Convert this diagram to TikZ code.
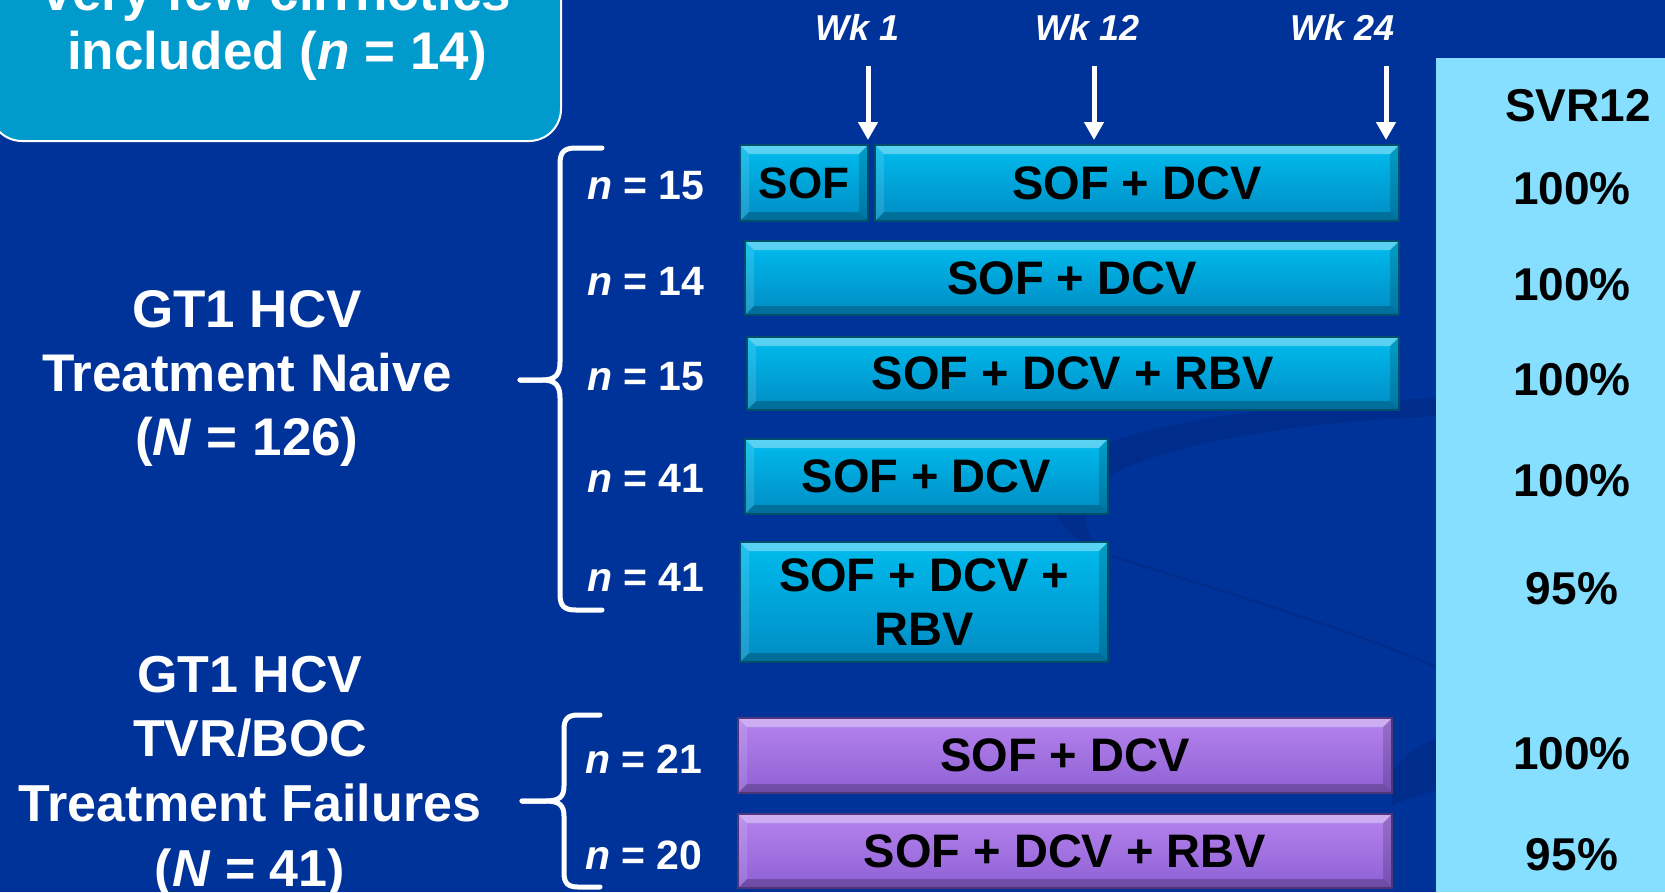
\documentclass[tikz,border=0pt]{standalone}
\usepackage{fontspec}
\setmainfont{Liberation Sans}
\usetikzlibrary{arrows.meta}
\definecolor{bg}{RGB}{0,51,153}
\definecolor{swoosh}{RGB}{0,44,140}
\definecolor{col}{RGB}{135,223,255}
\definecolor{topbox}{RGB}{0,155,204}
\definecolor{cyanT}{RGB}{0,188,238}
\definecolor{cyanB}{RGB}{0,140,196}
\definecolor{purT}{RGB}{182,132,238}
\definecolor{purB}{RGB}{142,96,212}
\newcommand\barfont{\fontsize{47}{54}\selectfont\bfseries}
\tikzset{
  every node/.style={inner sep=0pt, outer sep=0pt},
  bar/.style={rectangle, draw=#1B!55!black, line width=1.2pt, top color=#1T, bottom color=#1B,
    font=\barfont, text=black, align=center,
    path picture={
      \fill[white,opacity=.35] (path picture bounding box.north west) -- (path picture bounding box.north east)
        -- ([shift={(-9pt,-9pt)}]path picture bounding box.north east) -- ([shift={(9pt,-9pt)}]path picture bounding box.north west) -- cycle;
      \fill[white,opacity=.12] (path picture bounding box.north west) -- ([shift={(9pt,-9pt)}]path picture bounding box.north west)
        -- ([shift={(9pt,9pt)}]path picture bounding box.south west) -- (path picture bounding box.south west) -- cycle;
      \fill[black,opacity=.16] (path picture bounding box.north east) -- (path picture bounding box.south east)
        -- ([shift={(-9pt,9pt)}]path picture bounding box.south east) -- ([shift={(-9pt,-9pt)}]path picture bounding box.north east) -- cycle;
      \fill[black,opacity=.22] (path picture bounding box.south west) -- (path picture bounding box.south east)
        -- ([shift={(-9pt,9pt)}]path picture bounding box.south east) -- ([shift={(9pt,9pt)}]path picture bounding box.south west) -- cycle;
    }},
  nlab/.style={anchor=west, text=white, font=\fontsize{41}{48}\selectfont\bfseries},
  wklab/.style={text=white, font=\fontsize{36}{42}\selectfont\bfseries\itshape},
  pct/.style={text=black, font=\fontsize{46}{52}\selectfont\bfseries},
  grp/.style={anchor=base, text=white, font=\fontsize{53}{60}\selectfont\bfseries},
  wkarrow/.style={draw=white, line width=5pt, -{Triangle[width=19pt,length=18pt]}},
  brace/.style={draw=white, line width=5pt, line cap=round, line join=round},
  topboxstyle/.style={rectangle, rounded corners=32pt, fill=topbox, draw=white, line width=2pt}
}
\begin{document}
\begin{tikzpicture}[x=1pt,y=-1pt]
\useasboundingbox (0,0) rectangle (1665,892);
\fill[bg] (0,0) rectangle (1665,892);
% background swooshes
\fill[swoosh] (1436,398) .. controls (1300,405) and (1170,415) .. (1090,450)
  .. controls (1040,475) and (1035,530) .. (1112,556)
  .. controls (1075,535) and (1075,495) .. (1120,470)
  .. controls (1200,435) and (1320,422) .. (1436,416) -- cycle;
\draw[swoosh, line width=2.5pt] (1112,556) .. controls (1250,600) and (1350,630) .. (1436,667);
\fill[swoosh] (1392,770) .. controls (1405,755) and (1420,745) .. (1436,738) -- (1436,790) .. controls (1420,795) and (1405,800) .. (1392,805) -- cycle;
% SVR column
\fill[col] (1436,58) rectangle (1665,892);
% top box
\node[topboxstyle, minimum width=571pt, minimum height=201pt] (tbox) at (275.5,40.5) {};
\node[grp] (tb1) at (277,10) {very few cirrhotics};
\node[grp] (tb2) at (277,69) {included (\textit{n} = 14)};
% week labels and arrows
\node[wklab] (wk1) at (858,27) {Wk 1};
\node[wklab] (wk12) at (1088,27) {Wk 12};
\node[wklab] (wk24) at (1343,27) {Wk 24};
\coordinate (a1s) at (868,66); \coordinate (a1e) at (868,140);
\coordinate (a2s) at (1094,66); \coordinate (a2e) at (1094,140);
\coordinate (a3s) at (1386,66); \coordinate (a3e) at (1386,140);
\draw[wkarrow] (a1s) -- (a1e);
\draw[wkarrow] (a2s) -- (a2e);
\draw[wkarrow] (a3s) -- (a3e);
% bars
\node[bar=cyan, minimum width=128pt, minimum height=76pt, font=\fontsize{44}{50}\selectfont\bfseries] (r1a) at (804,183) {SOF};
\node[bar=cyan, minimum width=524pt, minimum height=76pt] (r1b) at (1137,183) {SOF + DCV};
\node[bar=cyan, minimum width=654pt, minimum height=74pt] (r2) at (1072,278) {SOF + DCV};
\node[bar=cyan, minimum width=652pt, minimum height=73pt] (r3) at (1073,373.5) {SOF + DCV + RBV};
\node[bar=cyan, minimum width=363pt, minimum height=75pt] (r4) at (926.5,476.5) {SOF + DCV};
\node[bar=cyan, minimum width=368pt, minimum height=120pt] (r5) at (924,602) {SOF + DCV +\\RBV};
\node[bar=pur, minimum width=654pt, minimum height=75pt] (r6) at (1065,755.5) {SOF + DCV};
\node[bar=pur, minimum width=654pt, minimum height=74pt] (r7) at (1065,851) {SOF + DCV + RBV};
% n labels
\node[nlab] (n1) at (587,186) {\textit{n} = 15};
\node[nlab] (n2) at (587,281) {\textit{n} = 14};
\node[nlab] (n3) at (587,377) {\textit{n} = 15};
\node[nlab] (n4) at (587,478) {\textit{n} = 41};
\node[nlab] (n5) at (587,577) {\textit{n} = 41};
\node[nlab] (n6) at (585,759) {\textit{n} = 21};
\node[nlab] (n7) at (585,855) {\textit{n} = 20};
% SVR12
\node[pct] (svr) at (1578,106) {SVR12};
\node[pct] (p1) at (1572,189) {100\%};
\node[pct] (p2) at (1572,285) {100\%};
\node[pct] (p3) at (1572,380) {100\%};
\node[pct] (p4) at (1572,481) {100\%};
\node[pct] (p5) at (1572,589) {95\%};
\node[pct] (p6) at (1572,754) {100\%};
\node[pct] (p7) at (1572,855) {95\%};
% group labels
\node[grp] (g1a) at (247,327) {GT1 HCV};
\node[grp] (g1b) at (247,391) {Treatment Naive};
\node[grp] (g1c) at (247,455) {(\textit{N} = 126)};
\node[grp, font=\fontsize{52}{60}\selectfont\bfseries] (g2a) at (250,692) {GT1 HCV};
\node[grp, font=\fontsize{52}{60}\selectfont\bfseries] (g2b) at (250,756) {TVR/BOC};
\node[grp, font=\fontsize{52}{60}\selectfont\bfseries] (g2c) at (250,821) {Treatment Failures};
\node[grp, font=\fontsize{52}{60}\selectfont\bfseries] (g2d) at (250,886) {(\textit{N} = 41)};
% braces
\draw[brace] (602,148) -- (576,148) .. controls (564,148) and (560,152) .. (560,164) -- (560,362)
  .. controls (560,374) and (556,380) .. (542,380) -- (520,380);
\draw[brace] (520,380) -- (542,380) .. controls (556,380) and (560,386) .. (560,398) -- (560,594)
  .. controls (560,606) and (564,610) .. (576,610) -- (602,610);
\draw[brace] (600,715) -- (578,715) .. controls (568,715) and (564,719) .. (564,729) -- (564,786)
  .. controls (564,796) and (560,801) .. (546,801) -- (522,801);
\draw[brace] (522,801) -- (546,801) .. controls (560,801) and (564,806) .. (564,816) -- (564,873)
  .. controls (564,883) and (568,887) .. (578,887) -- (600,887);
\end{tikzpicture}
\end{document}
